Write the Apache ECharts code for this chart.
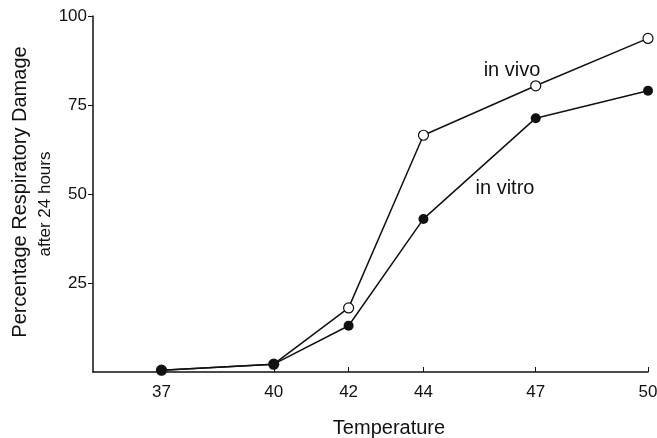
<!DOCTYPE html>
<html>
<head>
<meta charset="utf-8">
<script src="https://cdn.jsdelivr.net/npm/echarts@6/dist/echarts.min.js"></script>
<style>
  html, body { margin: 0; padding: 0; background: #fff; }
  #chart { width: 657px; height: 438px; }
</style>
</head>
<body>
<div id="chart"></div>
<script>
// temperatures (x) and damage % (y)
const temps = [37, 40, 42, 44, 47, 50];
const inVivo = [0.5, 2.2, 18, 66.5, 80.4, 93.7];
const inVitro = [0.5, 2.2, 13, 43, 71.3, 79];
const xTicks = [37, 40, 42, 44, 47, 50];
const yTicks = [25, 50, 75, 100];

const font = 'Liberation Sans, Arial, sans-serif';
const ink = '#111';

const pairs = (ys) => temps.map((t, i) => [t, ys[i]]);

const myChart = echarts.init(document.getElementById('chart'));

// 纵轴标题 (two rotated lines)
const yTitle = (x, y, text, size) => ({
  type: 'text',
  x: x,
  y: y,
  rotation: Math.PI / 2,
  style: { x: 0, y: 0, text: text, fill: ink, fontSize: size, fontFamily: font, align: 'center', verticalAlign: 'middle' }
});

const option = {
  animation: false,
  backgroundColor: '#fff',
  grid: { left: 93, right: 9, top: 16, bottom: 66, outerBoundsMode: 'none' },
  xAxis: {
    type: 'value',
    min: 35.17,
    max: 50,
    splitLine: { show: false },
    axisLine: { lineStyle: { color: ink, width: 1.5 } },
    axisTick: { inside: true, length: 5, customValues: xTicks, lineStyle: { color: ink } },
    axisLabel: { customValues: xTicks, color: ink, fontSize: 17, fontFamily: font, margin: 12 },
    name: 'Temperature',
    nameLocation: 'middle',
    nameGap: 46,
    nameTextStyle: { color: ink, fontSize: 20, fontFamily: font, padding: [0, 0, 0, 37] }
  },
  yAxis: {
    type: 'value',
    min: 0,
    max: 100,
    splitLine: { show: false },
    axisLine: { show: true, lineStyle: { color: ink, width: 1.5 } },
    axisTick: { show: true, length: 5, customValues: yTicks, lineStyle: { color: ink } },
    axisLabel: { customValues: yTicks, color: ink, fontSize: 17, fontFamily: font, margin: 6 }
  },
  series: [
    {
      name: 'in vivo',
      type: 'line',
      data: pairs(inVivo),
      symbol: 'circle',
      symbolSize: 10,
      lineStyle: { color: ink, width: 1.5 },
      itemStyle: { color: '#fff', borderColor: ink, borderWidth: 1.2 },
      z: 3
    },
    {
      name: 'in vitro',
      type: 'line',
      data: pairs(inVitro),
      symbol: 'circle',
      symbolSize: 10,
      lineStyle: { color: ink, width: 1.5 },
      itemStyle: { color: ink, borderColor: ink, borderWidth: 0 },
      z: 4
    }
  ],
  graphic: [
    yTitle(20, 192, 'Percentage Respiratory Damage', 20),
    yTitle(45, 204, 'after 24 hours', 17),
    { type: 'text', style: { x: 512, y: 70, text: 'in vivo', fill: ink, fontSize: 20, fontFamily: font, align: 'center', verticalAlign: 'middle' } },
    { type: 'text', style: { x: 505, y: 188, text: 'in vitro', fill: ink, fontSize: 20, fontFamily: font, align: 'center', verticalAlign: 'middle' } }
  ]
};

// 绘制图表
myChart.setOption(option);
</script>
</body>
</html>
